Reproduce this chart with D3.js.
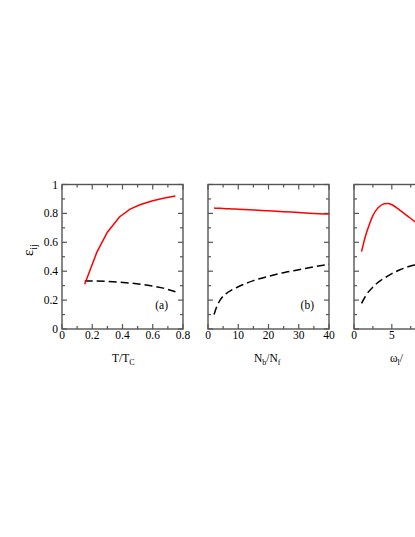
<!DOCTYPE html>
<html><head><meta charset="utf-8">
<script src="https://cdn.jsdelivr.net/npm/d3@7"></script>
<style>body{margin:0;background:#fff}svg{display:block}</style>
</head><body>
<script>
// Panel (a): T/Tc
const tA = [0.15,0.23,0.30,0.38,0.45,0.52,0.60,0.67,0.75];
const redA = [0.31,0.53,0.67,0.775,0.83,0.862,0.888,0.905,0.92];
const blackA = [0.332,0.332,0.329,0.325,0.318,0.31,0.298,0.283,0.258];
// Panel (b): Nb/Nf
const nB = [2,3,4,6,8,10,15,20,25,30,35,40];
const redB = [0.837,0.836,0.835,0.833,0.831,0.829,0.824,0.818,0.812,0.806,0.800,0.795];
const blackB = [0.10,0.16,0.20,0.245,0.272,0.292,0.335,0.365,0.39,0.41,0.43,0.448];
// Panel (c): omega
const wC = [1,1.5,2,2.5,3,3.5,4,4.5,5,6,7,8,9,10,12,14,16];
const redC = [0.535,0.64,0.72,0.785,0.828,0.853,0.866,0.868,0.86,0.825,0.785,0.745,0.71,0.68,0.63,0.59,0.56];
const blackC = [0.178,0.225,0.262,0.29,0.315,0.335,0.352,0.368,0.383,0.408,0.428,0.443,0.455,0.464,0.477,0.486,0.492];
const yTicks = [0,0.2,0.4,0.6,0.8,1];
const panels = [
  {x:tA, red:redA, black:blackA, domain:[0,0.8], major:[0,0.2,0.4,0.6,0.8], minorStep:0.1, label:"(a)", left:62, curve:d3.curveLinear},
  {x:nB, red:redB, black:blackB, domain:[0,40], major:[0,10,20,30,40], minorStep:5, label:"(b)", left:208, curve:d3.curveMonotoneX},
  {x:wC, red:redC, black:blackC, domain:[0,16], major:[0,5,10,15], minorStep:2.5, label:"(c)", left:354, curve:d3.curveMonotoneX}
];
const FONT = "'Liberation Serif', Tinos, 'Times New Roman', Times, serif";
const W=415,H=537, yTop=184.5, yBot=329, pw=121;
const svg = d3.select("body").append("svg").attr("width",W).attr("height",H)
  .attr("font-family",FONT);
const y = d3.scaleLinear().domain([0,1]).range([yBot,yTop]);
const frameColor="#555";
panels.forEach((p,i)=>{
  const x = d3.scaleLinear().domain(p.domain).range([p.left,p.left+pw]);
  const g = svg.append("g");
  const minors = d3.range(p.domain[0], p.domain[1]+1e-9, p.minorStep).filter(v=>!p.major.some(m=>Math.abs(m-v)<1e-9));
  const yMinor = d3.range(0.1,1,0.2);
  [[p.major,5],[minors,3]].forEach(([vals,len])=>{
    vals.forEach(v=>{
      const xx=x(v);
      g.append("line").attr("x1",xx).attr("x2",xx).attr("y1",yBot).attr("y2",yBot-len).attr("stroke",frameColor).attr("stroke-width",1.2);
      g.append("line").attr("x1",xx).attr("x2",xx).attr("y1",yTop).attr("y2",yTop+len).attr("stroke",frameColor).attr("stroke-width",1.2);
    });
  });
  [[yTicks,5],[yMinor,3]].forEach(([vals,len])=>{
    vals.forEach(v=>{
      const yy=y(v);
      g.append("line").attr("x1",p.left).attr("x2",p.left+len).attr("y1",yy).attr("y2",yy).attr("stroke",frameColor).attr("stroke-width",1.2);
      g.append("line").attr("x1",p.left+pw).attr("x2",p.left+pw-len).attr("y1",yy).attr("y2",yy).attr("stroke",frameColor).attr("stroke-width",1.2);
    });
  });
  g.append("rect").attr("x",p.left).attr("y",yTop).attr("width",pw).attr("height",yBot-yTop)
    .attr("fill","none").attr("stroke",frameColor).attr("stroke-width",1.4);
  p.major.filter(v=>x(v)<W-8).forEach(v=>{
    g.append("text").attr("x",x(v)).attr("y",yBot+10).attr("text-anchor","middle").attr("font-size",11.5).text(String(v));
  });
  if(i===0){
    yTicks.forEach(v=>{
      g.append("text").attr("x",p.left-4).attr("y",y(v)+4).attr("text-anchor","end").attr("font-size",11.5).text(String(v));
    });
  }
  const line = d3.line().x((d,k)=>x(p.x[k])).y(d=>y(d)).curve(p.curve);
  g.append("path").datum(p.black).attr("d",line).attr("fill","none").attr("stroke","#000").attr("stroke-width",1.5).attr("stroke-dasharray","8,4");
  g.append("path").datum(p.red).attr("d",line).attr("fill","none").attr("stroke","#ff0000").attr("stroke-width",1.5);
  if(p.left+pw < W) g.append("text").attr("x",p.left+pw-15).attr("y",309).attr("text-anchor","end").attr("font-size",11.5).text(p.label);
});
const yl = svg.append("text").attr("transform","translate(33,250) rotate(-90)").attr("text-anchor","middle").attr("font-size",15);
yl.append("tspan").text("ε");
yl.append("tspan").attr("font-size",10).attr("dy",4).text("ij");
function xlabel(x0, main, sub1, mid, sub2){
  const t = svg.append("text").attr("x",x0).attr("y",362).attr("font-size",11.5);
  t.append("tspan").text(main);
  t.append("tspan").attr("font-size",8).attr("dy",3).text(sub1);
  if(mid!==undefined){
    t.append("tspan").attr("dy",-3).text(mid);
    if(sub2) t.append("tspan").attr("font-size",8).attr("dy",3).text(sub2);
  }
}
xlabel(112,"T/T","C");
xlabel(254,"N","b","/N","f");
xlabel(390,"ω","l","/");
</script>
</body></html>
